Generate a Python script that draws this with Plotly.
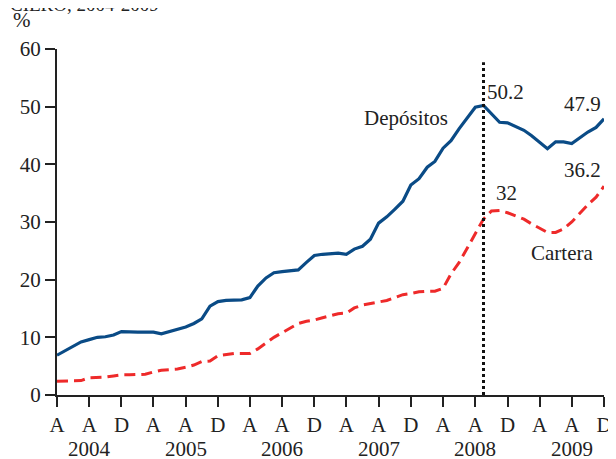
import plotly.graph_objects as go
import pandas as pd

months = pd.date_range("2004-04-01", "2009-12-01", freq="MS").strftime("%Y-%m-%d").tolist()

depositos = [6.9, 7.7, 8.5, 9.2, 9.6, 10.0, 10.1, 10.4, 11.0, 10.9,
             10.9, 10.9, 10.9, 10.6, 11.0, 11.3, 11.8, 12.4, 13.2, 15.4,
             16.2, 16.4, 16.5, 16.5, 16.9, 18.9, 20.3, 21.2, 21.4, 21.6,
             21.7, 23.0, 24.2, 24.4, 24.5, 24.6, 24.4, 25.3, 25.8, 27.0,
             29.8, 30.9, 32.2, 33.6, 36.4, 37.5, 39.5, 40.5, 42.8, 44.1,
             46.2, 48.1, 49.9, 50.2, 48.7, 47.3, 47.2, 46.6, 45.9, 45.0,
             43.9, 42.7, 43.9, 43.9, 43.6, 44.6, 45.6, 46.4, 47.9]

cartera = [2.4, 2.4, 2.4, 2.5, 3.0, 3.0, 3.1, 3.3, 3.5, 3.5,
           3.5, 3.6, 4.0, 4.3, 4.4, 4.5, 4.8, 5.2, 5.8, 5.9,
           6.8, 7.0, 7.2, 7.2, 7.2, 8.0, 9.0, 10.0, 10.8, 11.6,
           12.4, 12.8, 13.0, 13.4, 13.8, 14.1, 14.2, 15.1, 15.6, 15.9,
           16.2, 16.4, 16.9, 17.4, 17.6, 17.9, 18.0, 18.0, 18.5, 21.0,
           23.0, 25.5, 28.0, 30.5, 31.9, 32.0, 31.6, 31.1, 30.5, 29.7,
           29.0, 28.2, 28.2, 28.8, 30.0, 31.5, 33.0, 34.3, 36.2]

tick_dates = [f"{y}-{m:02d}-01" for y in range(2004, 2010) for m in (4, 8, 12)]
tick_text = ["A", "A", "D"] * 6
years = ["2004", "2005", "2006", "2007", "2008", "2009"]
year_dates = [f"{y}-08-01" for y in years]
crisis_date = "2008-09-01"

FONT = "Liberation Serif"
FS = 21
BLUE = "#0a4b86"
RED = "#ee2a2a"
TXT = "#222222"

fig = go.Figure()
fig.add_trace(go.Scatter(x=months, y=cartera, mode="lines",
                         line=dict(color=RED, width=3, dash="11px,6px"),
                         showlegend=False, hoverinfo="skip"))
fig.add_trace(go.Scatter(x=months, y=depositos, mode="lines",
                         line=dict(color=BLUE, width=3.2),
                         showlegend=False, hoverinfo="skip"))

fig.add_shape(type="line", xref="x", yref="y", x0=crisis_date, x1=crisis_date,
              y0=0, y1=57.7, line=dict(color="#111111", width=3, dash="dot"))

annots = [
    ("Depósitos", 0.638, 48.0),
    ("50.2", 0.820, 52.6),
    ("47.9", 0.961, 50.4),
    ("36.2", 0.961, 39.0),
    ("32", 0.821, 35.1),
    ("Cartera", 0.923, 24.6),
]
for txt, xp, yv in annots:
    fig.add_annotation(text=txt, xref="paper", yref="y", x=xp, y=yv,
                       xanchor="center", yanchor="middle",
                       showarrow=False, font=dict(family=FONT, size=FS, color=TXT))

for yr, d in zip(years, year_dates):
    fig.add_annotation(text=yr, xref="x", yref="paper", x=d, y=-0.157,
                       showarrow=False, xanchor="center", yanchor="middle",
                       font=dict(family=FONT, size=FS, color=TXT))

fig.add_annotation(text="%", xref="paper", yref="paper", x=-0.064, y=1.084,
                   xanchor="center", yanchor="middle", showarrow=False,
                   font=dict(family=FONT, size=FS, color=TXT))
fig.add_annotation(text="CIERO, 2004-2009", xref="paper", yref="paper", x=-0.090, y=1.128,
                   xanchor="left", yanchor="middle", showarrow=False,
                   font=dict(family=FONT, size=19, color=TXT))

fig.update_layout(
    width=616, height=459,
    margin=dict(l=49, r=20, t=41, b=72),
    paper_bgcolor="white", plot_bgcolor="white",
    font=dict(family=FONT, size=FS, color=TXT),
    xaxis=dict(range=["2004-04-01", "2009-12-01"], tickmode="array",
               tickvals=tick_dates, ticktext=tick_text, automargin=False,
               showgrid=False, zeroline=False, showline=True,
               linecolor=TXT, linewidth=2,
               ticks="outside", ticklen=10, tickwidth=2, tickcolor=TXT,
               tickfont=dict(family=FONT, size=FS), tickangle=0),
    yaxis=dict(range=[0, 60], tickvals=[0, 10, 20, 30, 40, 50, 60], automargin=False,
               showgrid=False, zeroline=False, showline=True,
               linecolor=TXT, linewidth=2,
               ticks="outside", ticklen=10, tickwidth=2, tickcolor=TXT,
               tickfont=dict(family=FONT, size=FS)),
)

fig.write_html("out.html")
